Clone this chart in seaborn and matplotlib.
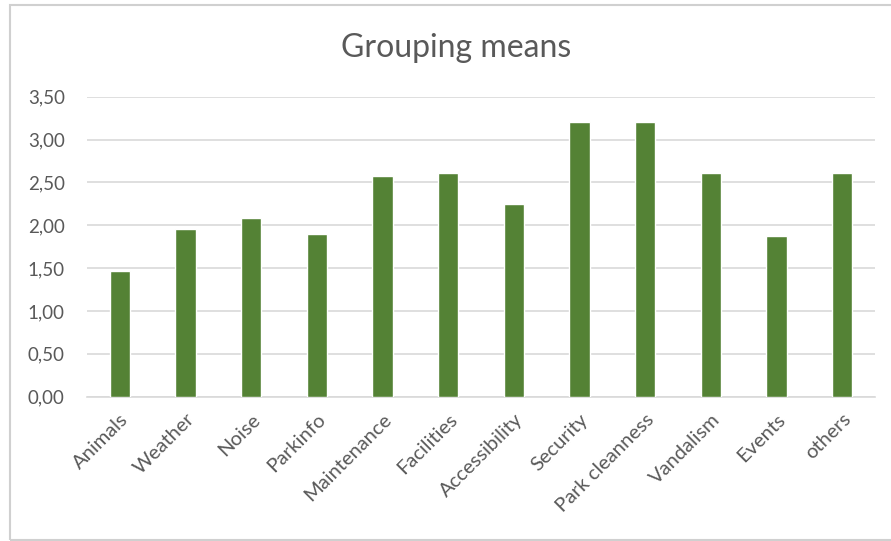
import matplotlib
matplotlib.use("Agg")
import matplotlib.pyplot as plt
import seaborn as sns
import pandas as pd
from matplotlib.patches import Rectangle

categories = ["Animals", "Weather", "Noise", "Parkinfo", "Maintenance", "Facilities",
              "Accessibility", "Security", "Park cleanness", "Vandalism", "Events", "others"]
means = [1.47, 1.96, 2.09, 1.90, 2.57, 2.61, 2.25, 3.21, 3.21, 2.61, 1.87, 2.61]
y_ticks = [0.0, 0.5, 1.0, 1.5, 2.0, 2.5, 3.0, 3.5]
y_tick_labels = ["0,00", "0,50", "1,00", "1,50", "2,00", "2,50", "3,00", "3,50"]

df = pd.DataFrame({"group": categories, "mean": means})

sns.set_theme(style="white")
plt.rcParams["font.family"] = ["Lato", "DejaVu Sans"]

fig = plt.figure(figsize=(8.91, 5.41), dpi=100)
ax = fig.add_axes([87 / 891, 1 - 396.7 / 541, (875 - 87) / 891, 300 / 541])

sns.barplot(data=df, x="group", y="mean", color="#548235", saturation=1,
            width=0.31, ax=ax, zorder=3)

ax.set_ylim(0, 3.5)
ax.set_xlim(-0.5, len(categories) - 0.5)
ax.set_yticks(y_ticks)
ax.set_yticklabels(y_tick_labels, color="#595959", fontsize=13.5)
ax.set_xticks(range(len(categories)))
ax.set_xticklabels(categories, rotation=45, ha="right", rotation_mode="anchor",
                   color="#595959", fontsize=14.5)
ax.tick_params(axis="both", length=0)
ax.tick_params(axis="y", pad=16)
ax.tick_params(axis="x", pad=10)
ax.set_xlabel("")
ax.set_ylabel("")
ax.yaxis.grid(True, color="#D9D9D9", linewidth=1.2, zorder=0)
ax.set_axisbelow(True)
for side in ["top", "right", "left"]:
    ax.spines[side].set_visible(False)
ax.spines["bottom"].set_color("#D9D9D9")
ax.spines["bottom"].set_linewidth(1.2)

fig.text(456 / 891, 1 - 48 / 541, "Grouping means", ha="center", va="center",
         fontsize=23, color="#595959")

# chart frame
fig.patches.append(Rectangle((10 / 891, 1 - 539.5 / 541), 890 / 891, 535 / 541,
                             transform=fig.transFigure, fill=False,
                             edgecolor="#D0D0D0", linewidth=1.5))

fig.savefig("out.png", dpi=100)
